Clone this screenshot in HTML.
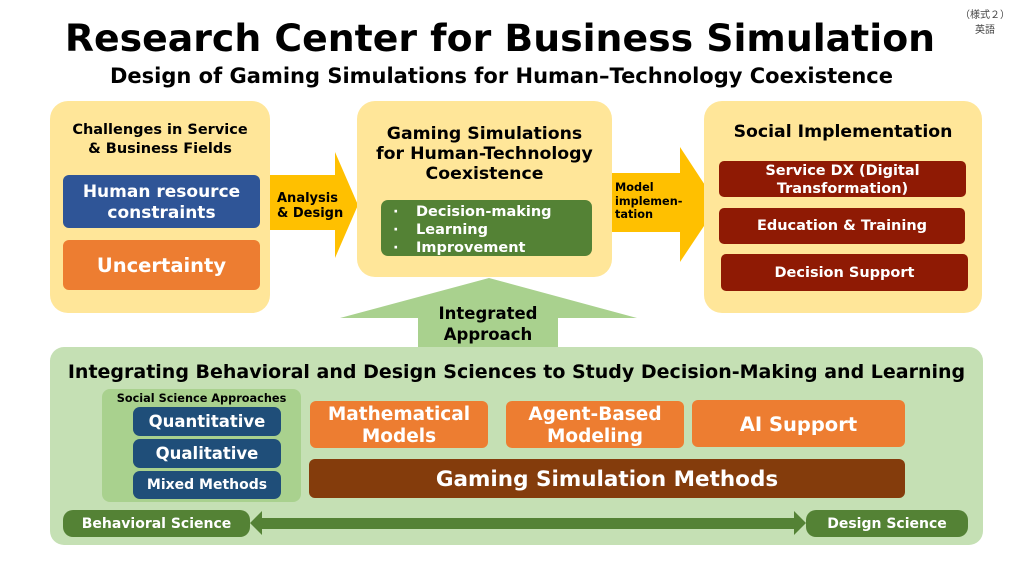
<!DOCTYPE html>
<html><head><meta charset="utf-8"><style>
*{margin:0;padding:0;box-sizing:border-box}
body{width:1024px;height:576px;background:#fff;position:relative;overflow:hidden;font-family:"DejaVu Sans","Liberation Sans",sans-serif;font-weight:bold}
.a{position:absolute}
.c{display:flex;align-items:center;justify-content:center;text-align:center;color:#fff;line-height:1.1;white-space:nowrap;padding-top:2px}
.yp{background:#ffe699;border-radius:18px}
</style></head><body>
<div class="a" style="left:955px;top:6px;width:60px;text-align:center;font:normal 10px 'Noto Sans CJK JP',sans-serif;color:#444;line-height:15px">（様式２）<br>英語</div>
<div class="a" style="left:0;top:16px;width:1000px;text-align:center;font-size:37.8px;color:#000;white-space:nowrap">Research Center for Business Simulation</div>
<div class="a" style="left:0;top:64px;width:1003px;text-align:center;font-size:21px;color:#000;white-space:nowrap">Design of Gaming Simulations for Human–Technology Coexistence</div>

<svg class="a" style="left:0;top:0" width="1024" height="576">
<polygon points="270,175 335,175 335,152 358,205 335,258 335,230 270,230" fill="#ffc000"/>
<polygon points="612,173 680,173 680,147 718,205 680,262 680,232 612,232" fill="#ffc000"/>
<polygon points="340,318 489,278 637,318 558,318 558,352 418,352 418,318" fill="#a9d18e"/>
</svg>

<div class="a yp" style="left:50px;top:101px;width:220px;height:212px"></div>
<div class="a" style="left:50px;top:121px;width:220px;text-align:center;font-size:14.5px;line-height:19px;white-space:nowrap">Challenges in Service<br>&amp; Business Fields</div>
<div class="a c" style="left:63px;top:175px;width:197px;height:53px;background:#2f5597;border-radius:6px;font-size:17px;line-height:21px">Human resource<br>constraints</div>
<div class="a c" style="left:63px;top:240px;width:197px;height:50px;background:#ed7d31;border-radius:6px;font-size:19.5px">Uncertainty</div>
<div class="a" style="left:277px;top:191px;font-size:13px;line-height:15px">Analysis<br>&amp; Design</div>

<div class="a yp" style="left:357px;top:101px;width:255px;height:176px"></div>
<div class="a" style="left:357px;top:124px;width:255px;text-align:center;font-size:17.3px;line-height:20px;white-space:nowrap">Gaming Simulations<br>for Human-Technology<br>Coexistence</div>
<div class="a" style="left:381px;top:200px;width:211px;height:56px;background:#548235;border-radius:7px;color:#fff;font-size:14.5px;line-height:18px;padding:3px 0 0 12px;white-space:nowrap">
<div><span style="display:inline-block;width:23px">·</span>Decision-making</div>
<div><span style="display:inline-block;width:23px">·</span>Learning</div>
<div><span style="display:inline-block;width:23px">·</span>Improvement</div></div>
<div class="a" style="left:615px;top:181px;font-size:11.3px;line-height:13.5px">Model<br>implemen-<br>tation</div>

<div class="a yp" style="left:704px;top:101px;width:278px;height:212px"></div>
<div class="a" style="left:704px;top:122px;width:278px;text-align:center;font-size:17.3px">Social Implementation</div>
<div class="a c" style="left:719px;top:161px;width:247px;height:36px;background:#8f1a04;border-radius:5px;font-size:14.5px;line-height:18px">Service DX (Digital<br>Transformation)</div>
<div class="a c" style="left:719px;top:208px;width:246px;height:36px;background:#8f1a04;border-radius:5px;font-size:14.5px">Education &amp; Training</div>
<div class="a c" style="left:721px;top:254px;width:247px;height:37px;background:#8f1a04;border-radius:5px;font-size:14.5px">Decision Support</div>

<div class="a" style="left:50px;top:347px;width:933px;height:198px;background:#c5e0b4;border-radius:14px"></div>
<div class="a" style="left:418px;top:303px;width:140px;text-align:center;font-size:16.5px;line-height:21px;color:#000">Integrated<br>Approach</div>
<div class="a" style="left:50px;top:361px;width:933px;text-align:center;font-size:19px;white-space:nowrap">Integrating Behavioral and Design Sciences to Study Decision-Making and Learning</div>
<div class="a" style="left:102px;top:389px;width:199px;height:113px;background:#a9d18e;border-radius:8px"></div>
<div class="a" style="left:102px;top:392px;width:199px;text-align:center;font-size:11.3px;white-space:nowrap">Social Science Approaches</div>
<div class="a c" style="left:133px;top:407px;width:148px;height:29px;background:#1f4e79;border-radius:7px;font-size:16.5px">Quantitative</div>
<div class="a c" style="left:133px;top:439px;width:148px;height:29px;background:#1f4e79;border-radius:7px;font-size:16.5px">Qualitative</div>
<div class="a c" style="left:133px;top:471px;width:148px;height:28px;background:#1f4e79;border-radius:7px;font-size:14px">Mixed Methods</div>
<div class="a c" style="left:310px;top:401px;width:178px;height:47px;background:#ed7d31;border-radius:6px;font-size:18.5px;line-height:22px">Mathematical<br>Models</div>
<div class="a c" style="left:506px;top:401px;width:178px;height:47px;background:#ed7d31;border-radius:6px;font-size:18.5px;line-height:22px">Agent-Based<br>Modeling</div>
<div class="a c" style="left:692px;top:400px;width:213px;height:47px;background:#ed7d31;border-radius:6px;font-size:19.5px">AI Support</div>
<div class="a c" style="left:309px;top:459px;width:596px;height:39px;background:#843c0c;border-radius:6px;font-size:21.5px">Gaming Simulation Methods</div>
<svg class="a" style="left:0;top:0" width="1024" height="576">
<polygon points="250,523 262,511 262,518 794,518 794,511 806,523 794,535 794,529 262,529 262,535" fill="#548235"/>
</svg>
<div class="a c" style="left:63px;top:510px;width:187px;height:27px;background:#548235;border-radius:10px;font-size:14px">Behavioral Science</div>
<div class="a c" style="left:806px;top:510px;width:162px;height:27px;background:#548235;border-radius:10px;font-size:14px">Design Science</div>
</body></html>
